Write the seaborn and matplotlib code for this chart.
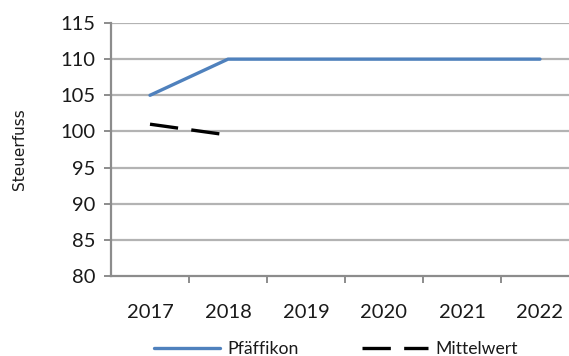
import matplotlib
matplotlib.use("Agg")
import matplotlib.pyplot as plt
from matplotlib.ticker import FixedLocator
import numpy as np
import pandas as pd
import seaborn as sns

years = ["2017", "2018", "2019", "2020", "2021", "2022"]
pfaeffikon = [105, 110, 110, 110, 110, 110]
mittelwert = [101, 99.5, None, None, None, None]
y_ticks = [80, 85, 90, 95, 100, 105, 110, 115]

sns.set_theme(style="white")
plt.rcParams["font.family"] = ["Lato", "DejaVu Sans"]

df = pd.DataFrame({
    "pos": np.arange(len(years)),
    "Pfäffikon": pfaeffikon,
    "Mittelwert": pd.array(mittelwert, dtype="Float64").astype(float),
})

fig = plt.figure(figsize=(5.69, 3.56), dpi=100)
ax = fig.add_axes([111 / 569, 80 / 356, 468 / 569, 253 / 356])

grid_c = "#b3b3b3"
axis_c = "#8c8c8c"
for v in y_ticks[1:]:
    ax.axhline(v, color=grid_c, lw=1.6, zorder=0)

sns.lineplot(data=df, x="pos", y="Pfäffikon", ax=ax, color="#4f81bd",
             lw=2.4, label="Pfäffikon", sort=False)
sns.lineplot(data=df, x="pos", y="Mittelwert", ax=ax, color="black",
             lw=2.4, label="Mittelwert", sort=False)
ax.lines[-1].set_dashes([8.5, 4])

ax.set_xlim(-0.5, len(years) - 0.5)
ax.set_ylim(80, 115)
ax.set_xticks(range(len(years)))
ax.set_xticklabels(years, fontsize=14.5, color="#1a1a1a")
ax.xaxis.set_minor_locator(FixedLocator(np.arange(0.5, len(years) - 0.5, 1)))
ax.tick_params(axis="x", which="major", length=0, pad=20)
ax.tick_params(axis="x", which="minor", length=5, width=1.4, color=axis_c,
               direction="out", bottom=True)
ax.set_yticks(y_ticks)
ax.set_yticklabels([str(v) for v in y_ticks], fontsize=14.5, color="#1a1a1a")
ax.tick_params(axis="y", length=5, width=1.4, color=axis_c, direction="out",
               left=True, pad=6)
ax.set_xlabel("")
ax.set_ylabel("")
fig.text(20 / 569, 1 - 149 / 356, "Steuerfuss", rotation=90, ha="center",
         va="center", fontsize=11, color="#1a1a1a",
         family=["DejaVu Sans"])

for side in ["top", "right"]:
    ax.spines[side].set_visible(False)
for side in ["left", "bottom"]:
    ax.spines[side].set_color(axis_c)
    ax.spines[side].set_linewidth(1.6)

ax.get_legend().remove()
handles, labels = ax.get_legend_handles_labels()
fig.legend(handles, labels, loc="center", bbox_to_anchor=(336 / 569, 1 - 349 / 356),
           ncol=2, frameon=False, fontsize=12.7, handlelength=3.75,
           handletextpad=0.4, columnspacing=3.6, labelcolor="#1a1a1a")

fig.savefig("out.png", dpi=100)
